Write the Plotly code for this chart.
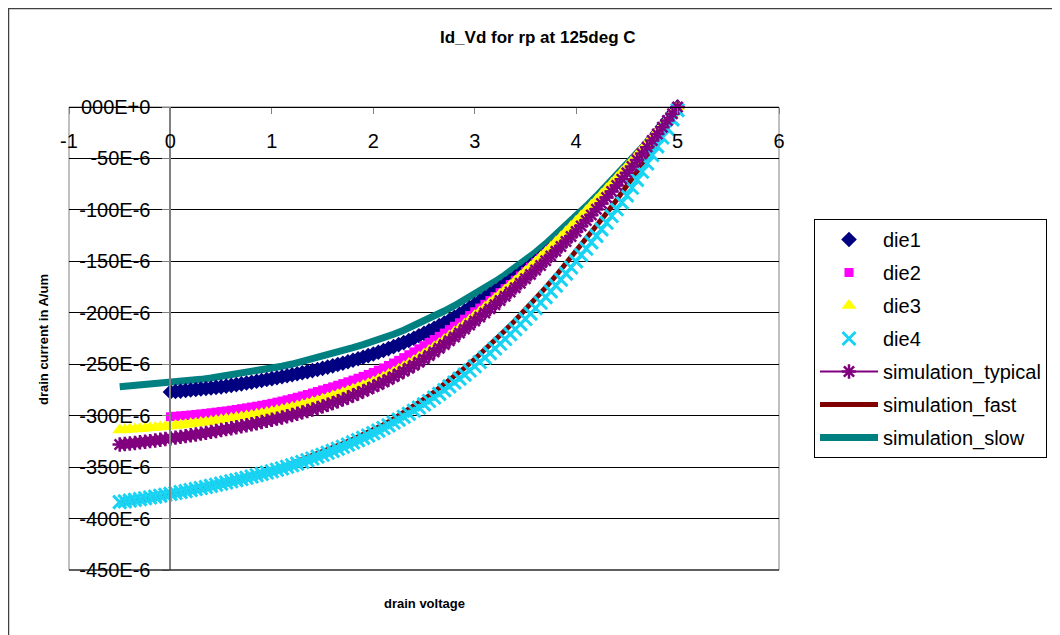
import plotly.graph_objects as go

# Drain voltage sweeps (V): fine sweep for the measured/marker series,
# coarse sweep for the simulated line-only series
VD_FINE = [-0.5, -0.45, -0.4, -0.35, -0.3, -0.25, -0.2, -0.15, -0.1, -0.05,
           0.0, 0.05, 0.1, 0.15, 0.2, 0.25, 0.3, 0.35, 0.4, 0.45,
           0.5, 0.55, 0.6, 0.65, 0.7, 0.75, 0.8, 0.85, 0.9, 0.95,
           1.0, 1.05, 1.1, 1.15, 1.2, 1.25, 1.3, 1.35, 1.4, 1.45,
           1.5, 1.55, 1.6, 1.65, 1.7, 1.75, 1.8, 1.85, 1.9, 1.95,
           2.0, 2.05, 2.1, 2.15, 2.2, 2.25, 2.3, 2.35, 2.4, 2.45,
           2.5, 2.55, 2.6, 2.65, 2.7, 2.75, 2.8, 2.85, 2.9, 2.95,
           3.0, 3.05, 3.1, 3.15, 3.2, 3.25, 3.3, 3.35, 3.4, 3.45,
           3.5, 3.55, 3.6, 3.65, 3.7, 3.75, 3.8, 3.85, 3.9, 3.95,
           4.0, 4.05, 4.1, 4.15, 4.2, 4.25, 4.3, 4.35, 4.4, 4.45,
           4.5, 4.55, 4.6, 4.65, 4.7, 4.75, 4.8, 4.85, 4.9, 4.95, 5.0]
VD_FINE_0 = VD_FINE[10:]
VD_SIM = [-0.5, -0.4, -0.3, -0.2, -0.1, 0.0, 0.1, 0.2, 0.3, 0.4, 0.5, 0.6, 0.7, 0.8, 0.9,
          1.0, 1.1, 1.2, 1.3, 1.4, 1.5, 1.6, 1.7, 1.8, 1.9, 2.0, 2.1, 2.2, 2.3, 2.4, 2.5,
          2.6, 2.7, 2.8, 2.9, 3.0, 3.1, 3.2, 3.3, 3.4, 3.5, 3.6, 3.7, 3.8, 3.9, 4.0, 4.1,
          4.2, 4.3, 4.4, 4.5, 4.6, 4.7, 4.8, 4.9, 5.0]

# drain current magnitudes in uA (plotted as negative A)
die1 = [277, 276.5, 276.1, 275.6, 275.1, 274.6, 274.1, 273.6, 273.1, 272.5,
        272, 271.3, 270.6, 269.8, 269.1, 268.3, 267.5, 266.6, 265.8, 264.9,
        264, 263.1, 262.2, 261.2, 260.3, 259.3, 258.3, 257.2, 256.2, 255.1,
        254, 252.8, 251.6, 250.3, 249, 247.6, 246.2, 244.7, 243.2, 241.6,
        240, 238.3, 236.6, 234.8, 232.9, 231, 229, 226.9, 224.7, 222.4,
        220, 217.6, 215.1, 212.5, 209.9, 207.2, 204.4, 201.4, 198.4, 195.2,
        192, 188.9, 185.7, 182.4, 179.1, 175.7, 172.3, 168.8, 165.3, 161.7,
        158, 154.1, 150.2, 146.1, 141.9, 137.6, 133.2, 128.6, 123.9, 119,
        114, 109, 103.9, 98.7, 93.5, 88.2, 82.8, 77.4, 72, 66.5,
        61, 55.3, 49.5, 43.6, 37.6, 31.5, 25.4, 19.1, 12.8, 6.4, 0]
die2 = [301, 300.6, 300.2, 299.8, 299.3, 298.8, 298.3, 297.8, 297.2, 296.6,
        296, 295.4, 294.7, 294, 293.2, 292.4, 291.6, 290.8, 289.9, 289,
        288, 286.9, 285.8, 284.6, 283.4, 282.1, 280.8, 279.4, 278, 276.5,
        275, 273.5, 272, 270.4, 268.8, 267.1, 265.4, 263.6, 261.8, 259.9,
        258, 255.8, 253.6, 251.2, 248.8, 246.2, 243.6, 240.8, 238, 235,
        232, 229, 226, 222.9, 219.7, 216.4, 213.1, 209.7, 206.2, 202.6,
        199, 195.4, 191.8, 188.1, 184.3, 180.4, 176.5, 172.5, 168.4, 164.2,
        160, 155.7, 151.4, 147, 142.5, 137.9, 133.3, 128.6, 123.8, 118.9,
        114, 109, 104, 98.9, 93.7, 88.4, 83.1, 77.7, 72.2, 66.6,
        61, 55.3, 49.5, 43.6, 37.6, 31.5, 25.4, 19.2, 12.9, 6.5, 0]
die3 = [314, 313.7, 313.3, 313, 312.6, 312.2, 311.8, 311.4, 311, 310.5,
        310, 309.5, 309, 308.5, 307.9, 307.3, 306.7, 306.1, 305.4, 304.7,
        304, 303.3, 302.6, 301.9, 301.1, 300.3, 299.5, 298.7, 297.8, 296.9,
        296, 295, 294, 292.9, 291.8, 290.6, 289.4, 288.1, 286.8, 285.4,
        284, 282.5, 281, 279.4, 277.8, 276.1, 274.4, 272.6, 270.8, 268.9,
        267, 264.8, 262.5, 260, 257.5, 254.8, 252.1, 249.2, 246.3, 243.2,
        240, 236.7, 233.3, 229.8, 226.2, 222.5, 218.8, 215, 211.1, 207.1,
        203, 198.9, 194.8, 190.6, 186.4, 182.1, 177.8, 173.4, 169, 164.5,
        160, 155.4, 150.7, 145.9, 141.1, 136.2, 131.3, 126.3, 121.3, 116.2,
        111, 105.9, 100.8, 95.6, 90.4, 85.1, 79.8, 74.4, 69, 63.5,
        58, 52.4, 46.8, 41.1, 35.4, 29.6, 23.8, 17.9, 12, 6, 0]
die4 = [384, 383.3, 382.6, 381.9, 381.1, 380.3, 379.5, 378.7, 377.8, 376.9,
        376, 375.1, 374.2, 373.3, 372.3, 371.3, 370.3, 369.3, 368.2, 367.1,
        366, 364.9, 363.8, 362.7, 361.5, 360.3, 359.1, 357.9, 356.6, 355.3,
        354, 352.6, 351.2, 349.7, 348.2, 346.6, 345, 343.3, 341.6, 339.8,
        338, 336.1, 334.2, 332.2, 330.2, 328.1, 326, 323.8, 321.6, 319.3,
        317, 314.5, 312, 309.4, 306.7, 303.9, 301.1, 298.2, 295.2, 292.1,
        289, 285.7, 282.3, 278.8, 275.2, 271.5, 267.8, 264, 260.1, 256.1,
        252, 247.8, 243.6, 239.2, 234.7, 230.1, 225.5, 220.8, 216, 211,
        206, 200.8, 195.6, 190.2, 184.8, 179.2, 173.6, 167.8, 162, 156,
        150, 143.9, 137.8, 131.6, 125.3, 118.9, 112.5, 106, 99.4, 92.7,
        86, 78.5, 70.8, 62.9, 54.9, 46.7, 38.3, 29.7, 21, 12, 3]
sim_typical = [328, 327.5, 327, 326.5, 325.9, 325.3, 324.7, 324.1, 323.4, 322.7,
               322, 321.3, 320.6, 319.9, 319.1, 318.3, 317.5, 316.7, 315.8, 314.9,
               314, 313.1, 312.2, 311.3, 310.3, 309.3, 308.3, 307.3, 306.2, 305.1,
               304, 302.9, 301.8, 300.6, 299.4, 298.1, 296.8, 295.4, 294, 292.5,
               291, 289.4, 287.8, 286, 284.2, 282.3, 280.4, 278.4, 276.4, 274.2,
               272, 269.7, 267.3, 264.8, 262.2, 259.5, 256.8, 254, 251.1, 248.1,
               245, 241.6, 238.1, 234.5, 230.9, 227.2, 223.5, 219.7, 215.9, 212,
               208, 204.1, 200.2, 196.2, 192.2, 188.1, 184, 179.8, 175.6, 171.3,
               167, 162.7, 158.4, 154, 149.5, 144.9, 140.3, 135.6, 130.8, 125.9,
               121, 115.7, 110.4, 104.9, 99.4, 93.7, 88, 82.1, 76.2, 70.1,
               64, 57.8, 51.6, 45.3, 39, 32.6, 26.2, 19.7, 13.2, 6.6, 0]
sim_fast = [385, 383.6, 382.1, 380.5, 378.8, 377, 375, 372.9, 370.7, 368.4, 366,
            363.6, 361.1, 358.5, 355.8, 353, 349.8, 346.4, 342.8, 339, 335,
            331.2, 327.2, 323, 318.6, 314, 308.8, 303.2, 297.2, 290.8, 284,
            277, 269.6, 261.8, 253.6, 245, 236, 226.7, 217.1, 207.2, 197,
            186.4, 175.4, 164, 152.2, 140, 128, 115.7, 103.1, 90.2, 77,
            62.8, 48, 32.6, 16.6, 0]
sim_slow = [272, 271.3, 270.6, 269.8, 269, 268, 267, 265.9, 264.7, 263.4, 262,
            260.6, 259.1, 257.5, 255.8, 254, 252, 249.8, 247.4, 244.8, 242,
            239.4, 236.7, 233.9, 231, 228, 224.6, 220.9, 216.9, 212.6, 208,
            203.3, 198.3, 193.1, 187.7, 182, 176, 169.7, 163.1, 156.2, 149,
            141.2, 132.9, 124.3, 115.3, 106, 96.4, 86.6, 76.6, 66.4, 56,
            45.2, 34.2, 23, 11.6, 0]

Y_TICKS_UA = [0, -50, -100, -150, -200, -250, -300, -350, -400, -450]
Y_TICK_TEXT = ["000E+0", "-50E-6", "-100E-6", "-150E-6", "-200E-6", "-250E-6",
               "-300E-6", "-350E-6", "-400E-6", "-450E-6"]
X_TICKS = [-1, 0, 1, 2, 3, 4, 5, 6]

for _name, _xs, _ys in [("die1", VD_FINE_0, die1), ("die2", VD_FINE_0, die2),
                        ("die3", VD_FINE, die3), ("die4", VD_FINE, die4),
                        ("typ", VD_FINE, sim_typical), ("fast", VD_SIM, sim_fast),
                        ("slow", VD_SIM, sim_slow)]:
    if len(_xs) != len(_ys):
        raise SystemExit(f"length mismatch {_name}: {len(_xs)} vs {len(_ys)}")


def amps(vals):
    return [-v * 1e-6 for v in vals]


FONT = "Liberation Sans, Arial, Helvetica, sans-serif"
W, H = 1052, 627          # page shows the figure offset by 8 px
ML, MR, MT, MB = 61, 281, 99, 65
PW, PH = W - ML - MR, H - MT - MB


def px(xp):
    return (xp - ML) / PW


def py(yp):
    return 1 - (yp - MT) / PH


fig = go.Figure()

# line series drawn first (they sit beneath the markers)
fig.add_trace(go.Scatter(x=VD_SIM, y=amps(sim_slow), name="simulation_slow", mode="lines",
                         line=dict(color="#008080", width=7), legendrank=7,
                         legendgroup="slow", cliponaxis=False))
fig.add_trace(go.Scatter(x=VD_SIM, y=amps(sim_fast), name="simulation_fast", mode="lines",
                         line=dict(color="#800000", width=5), legendrank=6,
                         legendgroup="fast", cliponaxis=False))
fig.add_trace(go.Scatter(x=VD_FINE_0, y=amps(die1), name="die1", mode="markers",
                         marker=dict(symbol="diamond", size=12, color="#000080"),
                         legendrank=1, legendgroup="d1", cliponaxis=False))
fig.add_trace(go.Scatter(x=VD_FINE_0, y=amps(die2), name="die2", mode="markers",
                         marker=dict(symbol="square", size=9, color="#FF00FF"),
                         legendrank=2, legendgroup="d2", cliponaxis=False))
fig.add_trace(go.Scatter(x=VD_FINE, y=amps(die3), name="die3", mode="markers",
                         marker=dict(symbol="triangle-up", size=13, color="#FFFF00"),
                         legendrank=3, legendgroup="d3", cliponaxis=False))
fig.add_trace(go.Scatter(x=VD_FINE, y=amps(die4), name="die4", mode="markers",
                         marker=dict(symbol="x-thin-open", size=13,
                                     line=dict(color="#00FFFF", width=3)),
                         legendrank=4, legendgroup="d4", cliponaxis=False))
fig.add_trace(go.Scatter(x=VD_FINE, y=amps(sim_typical), name="simulation_typical",
                         mode="lines+markers", line=dict(color="#800080", width=2),
                         marker=dict(symbol="asterisk-open", size=12,
                                     line=dict(color="#800080", width=2.5)),
                         legendrank=5, legendgroup="typ", cliponaxis=False))

fig.update_layout(
    width=W, height=H,
    paper_bgcolor="white", plot_bgcolor="white",
    margin=dict(l=ML, r=MR, t=MT, b=MB),
    font=dict(family=FONT, size=20, color="black"),
    showlegend=True,
    legend=dict(x=px(806), y=py(211), xanchor="left", yanchor="top",
                bordercolor="black", borderwidth=1, bgcolor="white",
                font=dict(size=20), itemwidth=58, tracegroupgap=4,
                traceorder="grouped"),
    xaxis=dict(range=[-1, 6], tickvals=X_TICKS, ticktext=[str(v) for v in X_TICKS],
               showgrid=False, zeroline=False, showline=True, linecolor="black",
               linewidth=1, ticks="outside", ticklen=6, tickcolor="#808080",
               anchor="free", position=1, side="bottom", ticklabelstandoff=10,
               tickfont=dict(size=20)),
    yaxis=dict(range=[-450e-6, 0], tickvals=[v * 1e-6 for v in Y_TICKS_UA],
               ticktext=Y_TICK_TEXT, showgrid=True, gridcolor="black", gridwidth=1,
               zeroline=False, showline=True, linecolor="#808080", linewidth=2,
               ticks="outside", ticklen=7, tickcolor="#808080",
               anchor="free", position=1 / 7, side="left",
               ticklabelstandoff=8, tickfont=dict(size=20)),
    shapes=[
        dict(type="rect", xref="paper", yref="paper", x0=0, x1=1, y0=0, y1=1,
             line=dict(color="#808080", width=1), layer="below"),
        dict(type="line", xref="paper", yref="paper", x0=0, x1=1, y0=0, y1=0,
             line=dict(color="black", width=1)),
        dict(type="rect", xref="paper", yref="paper", x0=px(0.5), x1=px(1080),
             y0=py(660), y1=py(0.5),
             line=dict(color="#404040", width=1.5), layer="below"),
    ],
    annotations=[
        dict(text="<b>Id_Vd for rp at 125deg C</b>", xref="paper", yref="paper",
             x=px(530), y=py(29), showarrow=False,
             font=dict(size=17), xanchor="center", yanchor="middle"),
        dict(text="<b>drain voltage</b>", xref="paper", yref="paper",
             x=px(416), y=py(595), showarrow=False,
             font=dict(size=13), xanchor="center", yanchor="middle"),
        dict(text="<b>drain current in A/um</b>", xref="paper", yref="paper",
             x=px(35), y=py(332), showarrow=False,
             font=dict(size=13), textangle=-90, xanchor="center", yanchor="middle"),
    ],
)

fig.write_html("out.html")
